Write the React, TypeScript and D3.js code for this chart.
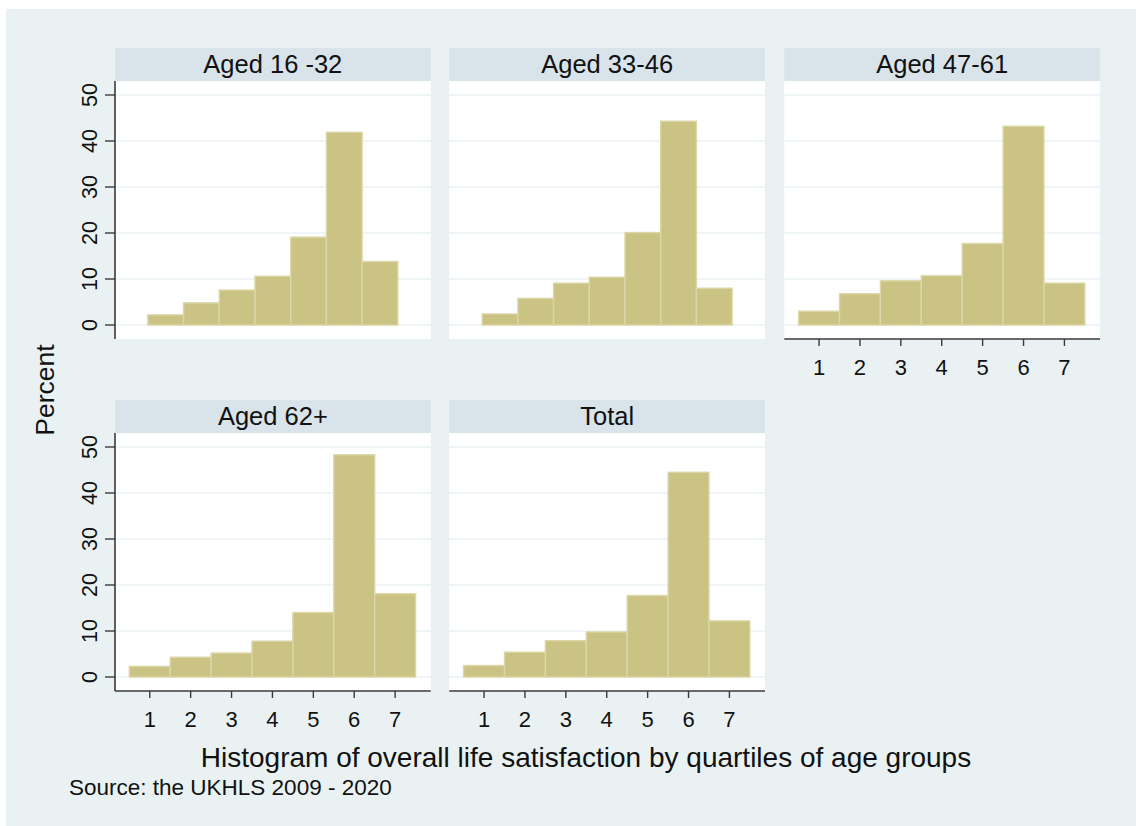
import React from "react";
import * as d3 from "d3";

// Life satisfaction scores (1-7) and percent of respondents per score, by age group
const scores = [1, 2, 3, 4, 5, 6, 7];
const panelTitles = ["Aged 16 -32", "Aged 33-46", "Aged 47-61", "Aged 62+", "Total"];
const aged16to32 = [2.2, 4.8, 7.6, 10.6, 19.1, 41.9, 13.8];
const aged33to46 = [2.4, 5.8, 9.1, 10.4, 20.1, 44.3, 8.0];
const aged47to61 = [3.0, 6.8, 9.6, 10.7, 17.7, 43.2, 9.1];
const aged62plus = [2.3, 4.3, 5.2, 7.8, 14.0, 48.3, 18.1];
const total = [2.5, 5.4, 7.9, 9.8, 17.7, 44.5, 12.2];
const yTicks = [0, 10, 20, 30, 40, 50];
const xTicks = [1, 2, 3, 4, 5, 6, 7];

const xAxisTitle = "Histogram of overall life satisfaction by quartiles of age groups";
const yAxisTitle = "Percent";
const sourceNote = "Source: the UKHLS 2009 - 2020";

const W = 1136;
const H = 826;
const FONT = "'Liberation Sans', Arial, Helvetica, sans-serif";

const BG = "#e9f1f3";
const STRIP = "#d8e4ea";
const GRID = "#ebf2f4";
const BAR_FILL = "#cac383";
const BAR_EDGE = "#dbd7a6";
const AXIS = "#3a3a3a";

const colX = [115, 449.3, 784.3];
const plotW = 315.7;
const rowStripTop = [48, 400];
const stripH = 33;
const plotH = 258;

type Panel = {
  title: string;
  values: number[];
  col: number;
  row: number;
  showX: boolean;
  showY: boolean;
  xDomain: [number, number];
};

const panels: Panel[] = [
  { title: panelTitles[0], values: aged16to32, col: 0, row: 0, showX: false, showY: true, xDomain: [-0.42, 8.42] },
  { title: panelTitles[1], values: aged33to46, col: 1, row: 0, showX: false, showY: false, xDomain: [-0.42, 8.42] },
  { title: panelTitles[2], values: aged47to61, col: 2, row: 0, showX: true, showY: false, xDomain: [0.15, 7.87] },
  { title: panelTitles[3], values: aged62plus, col: 0, row: 1, showX: true, showY: true, xDomain: [0.15, 7.87] },
  { title: panelTitles[4], values: total, col: 1, row: 1, showX: true, showY: false, xDomain: [0.15, 7.87] },
];

function HistPanel({ p }: { p: Panel }) {
  const left = colX[p.col];
  const stripTop = rowStripTop[p.row];
  const top = stripTop + stripH;
  const bottom = top + plotH;
  const right = left + plotW;

  const x = d3.scaleLinear().domain(p.xDomain).range([left, right]);
  const y = d3.scaleLinear().domain([-3.04, 53.04]).range([bottom, top]);

  return (
    <g>
      <rect x={left} y={stripTop} width={plotW} height={stripH} fill={STRIP} />
      <text
        x={(left + right) / 2}
        y={stripTop + 25}
        textAnchor="middle"
        fontFamily={FONT}
        fontSize={25.5}
        fill="#111"
      >
        {p.title}
      </text>
      <rect x={left} y={top} width={plotW} height={plotH} fill="#ffffff" />
      {yTicks.map((t) => (
        <line key={t} x1={left} x2={right} y1={y(t)} y2={y(t)} stroke={GRID} strokeWidth={1.6} />
      ))}
      {scores.map((s, i) => (
        <rect
          key={s}
          x={x(s - 0.5)}
          y={y(p.values[i])}
          width={x(s + 0.5) - x(s - 0.5)}
          height={y(0) - y(p.values[i])}
          fill={BAR_FILL}
          stroke={BAR_EDGE}
          strokeWidth={1.4}
        />
      ))}
      {p.showY && (
        <g>
          <line x1={left} x2={left} y1={top} y2={bottom} stroke={AXIS} strokeWidth={1.6} />
          {yTicks.map((t) => (
            <g key={t}>
              <line x1={left - 10} x2={left} y1={y(t)} y2={y(t)} stroke={AXIS} strokeWidth={1.4} />
              <text
                transform={`translate(${left - 18},${y(t)}) rotate(-90)`}
                textAnchor="middle"
                fontFamily={FONT}
                fontSize={21.5}
                fill="#111"
              >
                {t}
              </text>
            </g>
          ))}
        </g>
      )}
      {p.showX && (
        <g>
          <line x1={left} x2={right} y1={bottom} y2={bottom} stroke={AXIS} strokeWidth={1.6} />
          {xTicks.map((t) => (
            <g key={t}>
              <line x1={x(t)} x2={x(t)} y1={bottom} y2={bottom + 7} stroke={AXIS} strokeWidth={1.4} />
              <text
                x={x(t)}
                y={bottom + 35.5}
                textAnchor="middle"
                fontFamily={FONT}
                fontSize={22}
                fill="#111"
              >
                {t}
              </text>
            </g>
          ))}
        </g>
      )}
    </g>
  );
}

export default function App() {
  return (
    <svg
      width={W}
      height={H}
      viewBox={`0 0 ${W} ${H}`}
      style={{ position: "absolute", left: 0, top: 0, display: "block" }}
    >
      <rect x={0} y={0} width={W} height={H} fill="#ffffff" />
      <rect x={6} y={9} width={W - 6} height={H - 9} fill={BG} />
      {panels.map((p) => (
        <HistPanel key={p.title} p={p} />
      ))}
      <text
        transform={`translate(54,390) rotate(-90)`}
        textAnchor="middle"
        fontFamily={FONT}
        fontSize={26.5}
        fill="#111"
      >
        {yAxisTitle}
      </text>
      <text x={586} y={767} textAnchor="middle" fontFamily={FONT} fontSize={28} fill="#111">
        {xAxisTitle}
      </text>
      <text x={69} y={795} fontFamily={FONT} fontSize={22.5} fill="#111">
        {sourceNote}
      </text>
    </svg>
  );
}
